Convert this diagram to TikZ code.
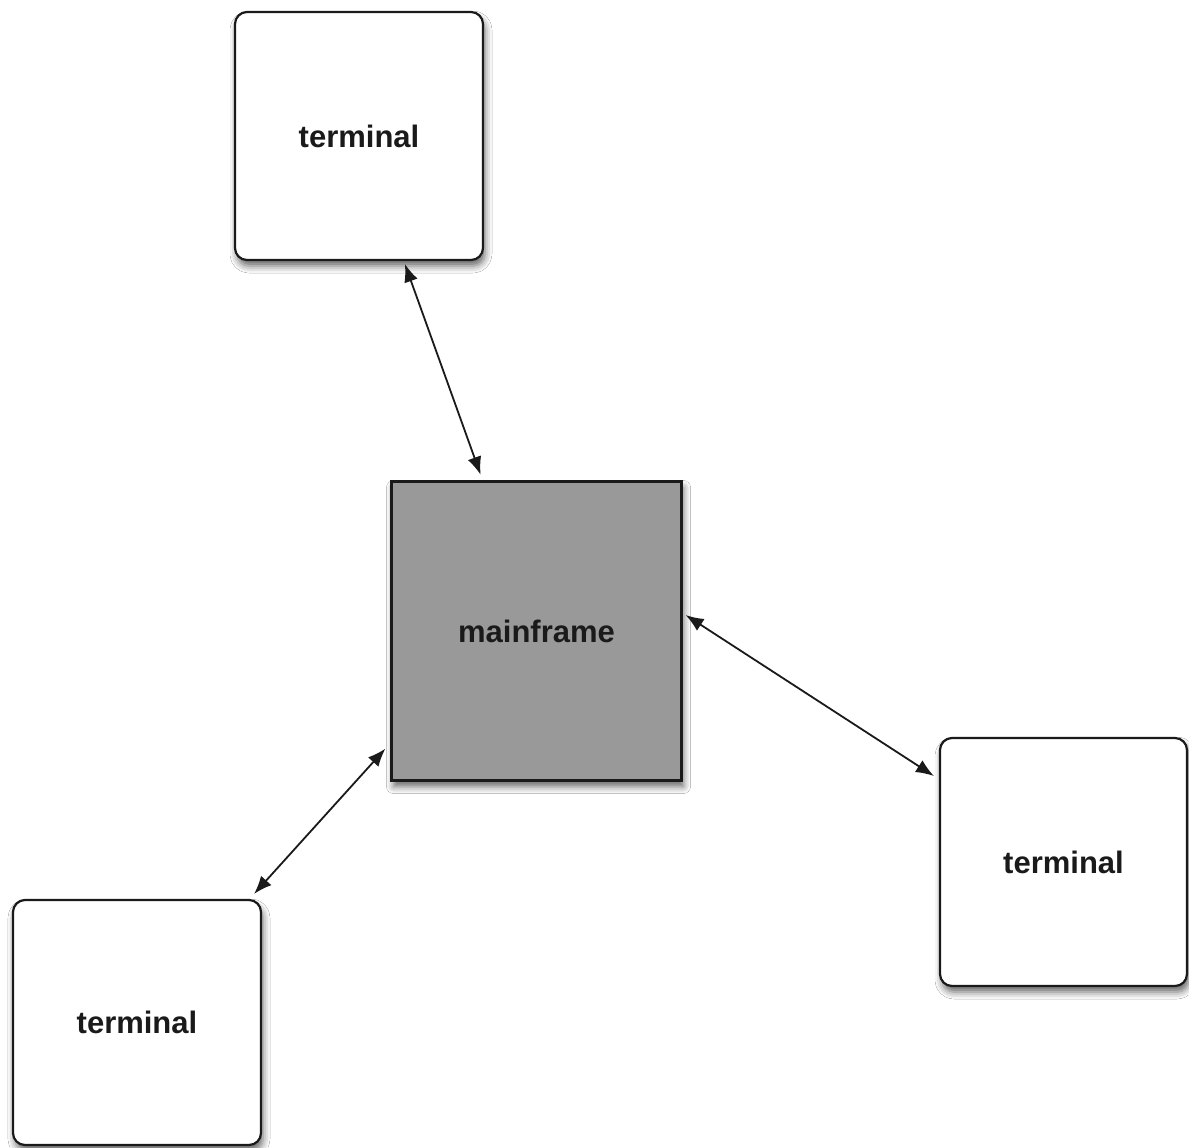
\documentclass[tikz,border=0pt]{standalone}
\usepackage{fontspec}
\setmainfont{Liberation Sans}
\usetikzlibrary{calc,shadows.blur,arrows.meta}
\definecolor{mfgray}{HTML}{999999}
\definecolor{ink}{HTML}{1A1A1A}
\begin{document}
\begin{tikzpicture}[x=0.5pt,y=-0.5pt,
  box/.style={draw=ink,line width=1.1pt,inner sep=0pt,
    font=\fontsize{15.5pt}{18pt}\selectfont\bfseries,text=ink,
    blur shadow={shadow xshift=1pt,shadow yshift=-3pt,shadow blur radius=3.5pt,shadow opacity=60}},
  terminal/.style={box,fill=white,rounded corners=6pt},
  host/.style={box,fill=mfgray},
  conn/.style={draw=ink,line width=0.9pt,{Latex[length=9pt,width=7pt]}-{Latex[length=9pt,width=7pt]}}]
  \useasboundingbox (0,0) rectangle (1189,1147);
  \fill[white] (0,0) rectangle (1189,1147);

  % nodes
  \node[terminal,minimum width=124pt,minimum height=124pt] (t1) at (359,136) {terminal};
  \node[host,minimum width=145pt,minimum height=149.5pt] (main) at (536.5,631) {mainframe};
  \node[terminal,minimum width=123.5pt,minimum height=124pt] (t2) at (1063.5,862) {terminal};
  \node[terminal,minimum width=124pt,minimum height=122.5pt] (t3) at (137,1022.5) {terminal};

  % links
  \draw[conn,shorten <=1.5pt,shorten >=3pt] (t1) -- (main);
  \draw[conn] ($(main.east)+(3,-16)$) -- ($(t2.west)+(-5,-86)$);
  \draw[conn] ($(main.south west)+(-5,-33)$) -- ($(t3.north east)+(-8,-5)$);
\end{tikzpicture}
\end{document}
